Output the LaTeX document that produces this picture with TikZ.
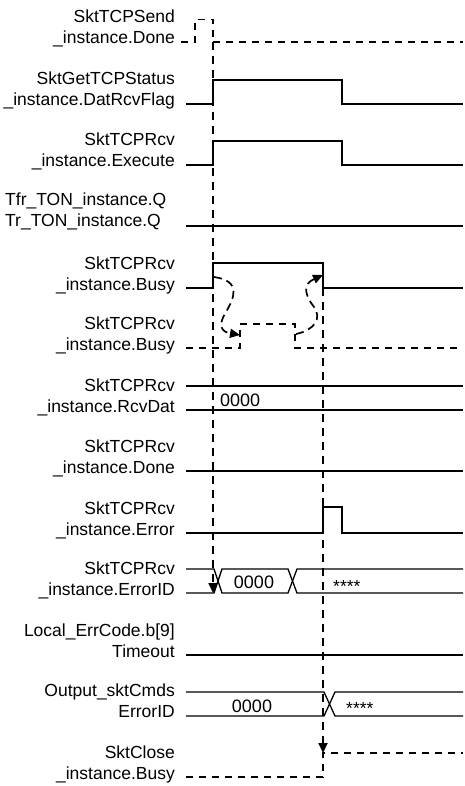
\documentclass[tikz,border=0pt]{standalone}
\usepackage{fontspec}
\setmainfont{Liberation Sans}
\usetikzlibrary{arrows.meta}
\begin{document}
\begin{tikzpicture}[x=1pt,y=-1pt,
  lbl/.style={anchor=base east, inner sep=0pt, font=\fontsize{17.5}{21}\selectfont},
  lbll/.style={anchor=base west, inner sep=0pt, font=\fontsize{17.5}{21}\selectfont},
  val/.style={anchor=base, inner sep=0pt, font=\fontsize{18}{21}\selectfont},
  star/.style={anchor=base west, inner sep=0pt, font=\fontsize{17.5}{21}\selectfont},
  sig/.style={line width=1.3pt, line join=miter},
  dsig/.style={line width=1.3pt, dash pattern=on 7pt off 6pt},
  guide/.style={line width=1.7pt, dash pattern=on 8pt off 6pt, -{Triangle[length=10pt,width=9pt]}},
  cause/.style={line width=1.7pt, dash pattern=on 8pt off 5pt, -{Triangle[length=10pt,width=9pt]}}
]
\useasboundingbox (0,0) rectangle (465,786);

% ---- labels ----
\node[lbl] (l1a) at (175,23) {SktTCPSend};
\node[lbl] (l1b) at (175,44) {\_instance.Done};
\node[lbl] (l2a) at (175,85) {SktGetTCPStatus};
\node[lbl] (l2b) at (175,106) {\_instance.DatRcvFlag};
\node[lbl] (l3a) at (175,146) {SktTCPRcv};
\node[lbl] (l3b) at (175,167) {\_instance.Execute};
\node[lbll] (l4a) at (5,206) {Tfr\_TON\_instance.Q};
\node[lbll] (l4b) at (5,226) {Tr\_TON\_instance.Q};
\node[lbl] (l5a) at (175,269) {SktTCPRcv};
\node[lbl] (l5b) at (175,290) {\_instance.Busy};
\node[lbl] (l6a) at (175,329) {SktTCPRcv};
\node[lbl] (l6b) at (175,350) {\_instance.Busy};
\node[lbl] (l7a) at (175,391) {SktTCPRcv};
\node[lbl] (l7b) at (175,412) {\_instance.RcvDat};
\node[lbl] (l8a) at (175,452) {SktTCPRcv};
\node[lbl] (l8b) at (175,473) {\_instance.Done};
\node[lbl] (l9a) at (175,514) {SktTCPRcv};
\node[lbl] (l9b) at (175,535) {\_instance.Error};
\node[lbl] (l10a) at (175,574) {SktTCPRcv};
\node[lbl] (l10b) at (175,595) {\_instance.ErrorID};
\node[lbl] (l11a) at (175,636) {Local\_ErrCode.b[9]};
\node[lbl] (l11b) at (175,657) {Timeout};
\node[lbl] (l12a) at (175,696) {Output\_sktCmds};
\node[lbl] (l12b) at (175,717) {ErrorID};
\node[lbl] (l13a) at (175,758) {SktClose};
\node[lbl] (l13b) at (175,779) {\_instance.Busy};

% ---- waveforms ----
\draw[dsig] (181,42) -- (195,42) -- (195,19.5) -- (213,19.5) -- (213,42);
\draw[dsig] (213,42) -- (463,42);
\draw[sig] (186,104) -- (213,104) -- (213,80) -- (342,80) -- (342,104) -- (463,104);
\draw[sig] (186,165) -- (213,165) -- (213,141) -- (342,141) -- (342,165) -- (463,165);
\draw[sig] (186,226) -- (463,226);
\draw[sig] (186,288) -- (213,288) -- (213,263) -- (323,263) -- (323,288) -- (463,288);
\draw[dsig] (186,348) -- (240,348) -- (240,324) -- (295,324) -- (295,348) -- (463,348);
\draw[sig] (186,386) -- (463,386);
\draw[sig] (186,410) -- (463,410);
\node[val, anchor=base west] (v7) at (220,406) {0000};
\draw[sig] (186,471) -- (463,471);
\draw[sig] (186,533) -- (323,533) -- (323,507) -- (342,507) -- (342,533) -- (463,533);
% ErrorID bus
\draw[sig] (186,569) -- (214,569) -- (222,593) -- (288,593) -- (297,569) -- (463,569);
\draw[sig] (186,593) -- (214,593) -- (222,569) -- (288,569) -- (297,593) -- (463,593);
\node[val] (v10) at (254,588) {0000};
\node[star] (s10) at (333,592) {****};
\draw[sig] (186,655) -- (463,655);
% Output ErrorID bus
\draw[sig] (186,692) -- (324,692) -- (335,716) -- (463,716);
\draw[sig] (186,716) -- (324,716) -- (335,692) -- (463,692);
\node[val] (v12) at (252,712) {0000};
\node[star] (s12) at (346,714) {****};
\draw[dsig] (186,777) -- (323,777) -- (323,753) -- (463,753);

% ---- guide lines ----
\coordinate (g1s) at (213,42);
\coordinate (g1e) at (213,593);
\coordinate (g2s) at (323,288);
\coordinate (g2e) at (323,753);
\draw[guide] (g1s) -- (g1e);
\draw[guide] (g2s) -- (g2e);

% ---- cause arrows ----
\coordinate (c1s) at (214,277);
\coordinate (c1e) at (240,335);
\draw[cause] (c1s) .. controls (242,281) and (234,298) .. (226,312) .. controls (217,326) and (222,332) .. (c1e);
\coordinate (c2s) at (296,334);
\coordinate (c2e) at (323,275);
\draw[cause] (c2s) .. controls (315,330) and (322,318) .. (314,307) .. controls (304,294) and (303,284) .. (c2e);
\end{tikzpicture}
\end{document}
